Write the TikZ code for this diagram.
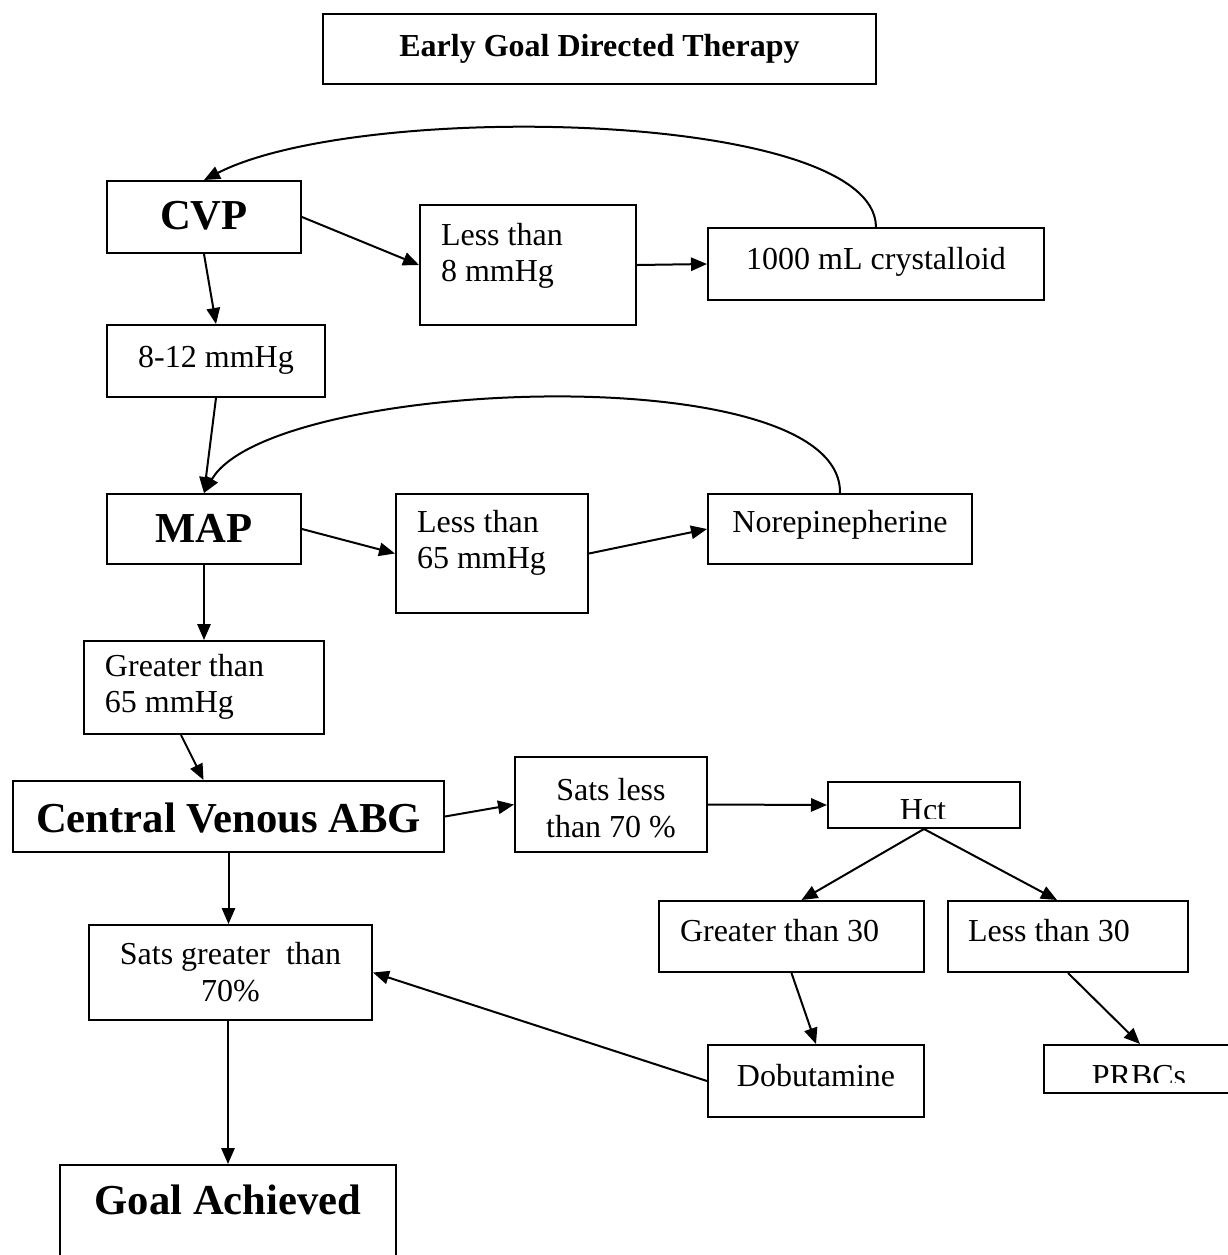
\documentclass[tikz,border=0pt]{standalone}
\usepackage{fontspec}
\setmainfont{Liberation Serif}
\usetikzlibrary{arrows.meta}

\newdimen\pxl \pxl=0.375pt

\tikzstyle{box} = [draw, line width=0.75pt, anchor=north west, inner ysep=0pt, font=\fontsize{12}{13.8}\selectfont]
\tikzstyle{big} = [font=\fontsize{16}{18.4}\selectfont\bfseries]
\tikzstyle{txt} = [inner sep=0pt, anchor=base, font=\fontsize{12}{13.8}\selectfont]
\tikzstyle{arr} = [line width=0.75pt, -{Triangle[length=6pt, width=5pt]}]
\tikzset{
  sz/.style n args={3}{minimum width=#1\pxl, text height=#2\pxl, text depth=#3\pxl},
  lft/.style n args={2}{text width=#1\pxl, inner xsep=#2\pxl, align=flush left}
}

\begin{document}
\begin{tikzpicture}[x=0.375pt, y=-0.375pt]
\useasboundingbox (0,0) rectangle (1228,1255);

\node[box, sz={553}{42}{28}, font=\fontsize{12}{13.8}\selectfont\bfseries] (title) at (322,13) {Early Goal Directed Therapy};

% CVP
\node[box, big, sz={194}{48}{24}] (cvp) at (106,180) {CVP};
\node[box, sz={216}{40}{80}, lft={174}{21}] (lt8) at (419,204) {Less than\\8 mmHg};
\node[box, sz={336}{41}{31}] (crys) at (707,227) {1000 mL crystalloid};
\node[box, sz={218}{42}{30}] (mmhg) at (106,324) {8-12 mmHg};

% MAP
\node[box, big, sz={194}{48}{22}] (map) at (106,493) {MAP};
\node[box, sz={192}{38}{81}, lft={150}{21}] (lt65) at (395,493) {Less than\\65 mmHg};
\node[box, sz={264}{38}{32}] (norepi) at (707,493) {Norepinepherine};
\node[box, sz={240}{35}{58}, lft={198}{21}] (gt65) at (83,640) {Greater than\\65 mmHg};

% central venous ABG
\node[box, big, sz={431}{51}{20}] (cvabg) at (12,780) {Central Venous ABG};
\node[box, sz={192}{80}{15}, align=center] (slt70) at (514,756) {Sats less\\than 70 \%};
\node[box, sz={192}{39}{7}] (hct) at (827,781) {};
\node[box, sz={265}{40}{31}, lft={223}{21}] (gt30) at (658,900) {Greater than 30};
\node[box, sz={240}{40}{31}, lft={200}{20}] (lt30) at (947,900) {Less than 30};
\node[box, sz={283}{76}{19}, align=center] (sgt70) at (88,924) {Sats greater\ \ than\\70\%};
\node[box, sz={216}{41}{31}] (dobu) at (707,1044) {Dobutamine};
\node[box, sz={192}{42}{6}] (prbc) at (1043,1044) {};
\node[box, big, sz={336}{49}{80}] (goal) at (59,1164) {Goal Achieved};

% text cut off by its box
\begin{scope}
  \clip (hct.north west) rectangle (1019,818);
  \node[txt] (hcttext) at (923,820) {Hct};
\end{scope}
\begin{scope}
  \clip (prbc.north west) rectangle (1228,1082);
  \node[txt] (prbctext) at (1139,1086) {PRBCs};
\end{scope}

% arrows
\draw[arr] (cvp.east) -- (lt8.west);
\draw[arr] (lt8.east) -- (crys.west);
\draw[arr] (crys.north) .. controls (875,110) and (360,100) .. (cvp.north);
\draw[arr] (cvp.south) -- (mmhg.north);
\draw[arr] (mmhg.south) -- (map.north);
\draw[arr] (norepi.north) .. controls (842,355) and (270,378) .. (map.north);
\draw[arr] (map.east) -- (lt65.west);
\draw[arr] (lt65.east) -- (norepi.west);
\draw[arr] (map.south) -- (gt65.north);
\draw[arr] ([xshift=-23\pxl]gt65.south) -- ([xshift=-25\pxl]cvabg.north);
\draw[arr] (cvabg.east) -- (slt70.west);
\draw[arr] (slt70.east) -- (hct.west);
\draw[arr] (hct.south) -- ([xshift=10\pxl]gt30.north);
\draw[arr] (hct.south) -- ([xshift=-11\pxl]lt30.north);
\draw[arr] (gt30.south) -- (dobu.north);
\draw[arr] (lt30.south) -- (prbc.north);
\draw[arr] (dobu.west) -- (sgt70.east);
\draw[arr] (cvabg.south) -- (cvabg.south |- sgt70.north);
\draw[arr] (goal.north |- sgt70.south) -- (goal.north);
\end{tikzpicture}
\end{document}
